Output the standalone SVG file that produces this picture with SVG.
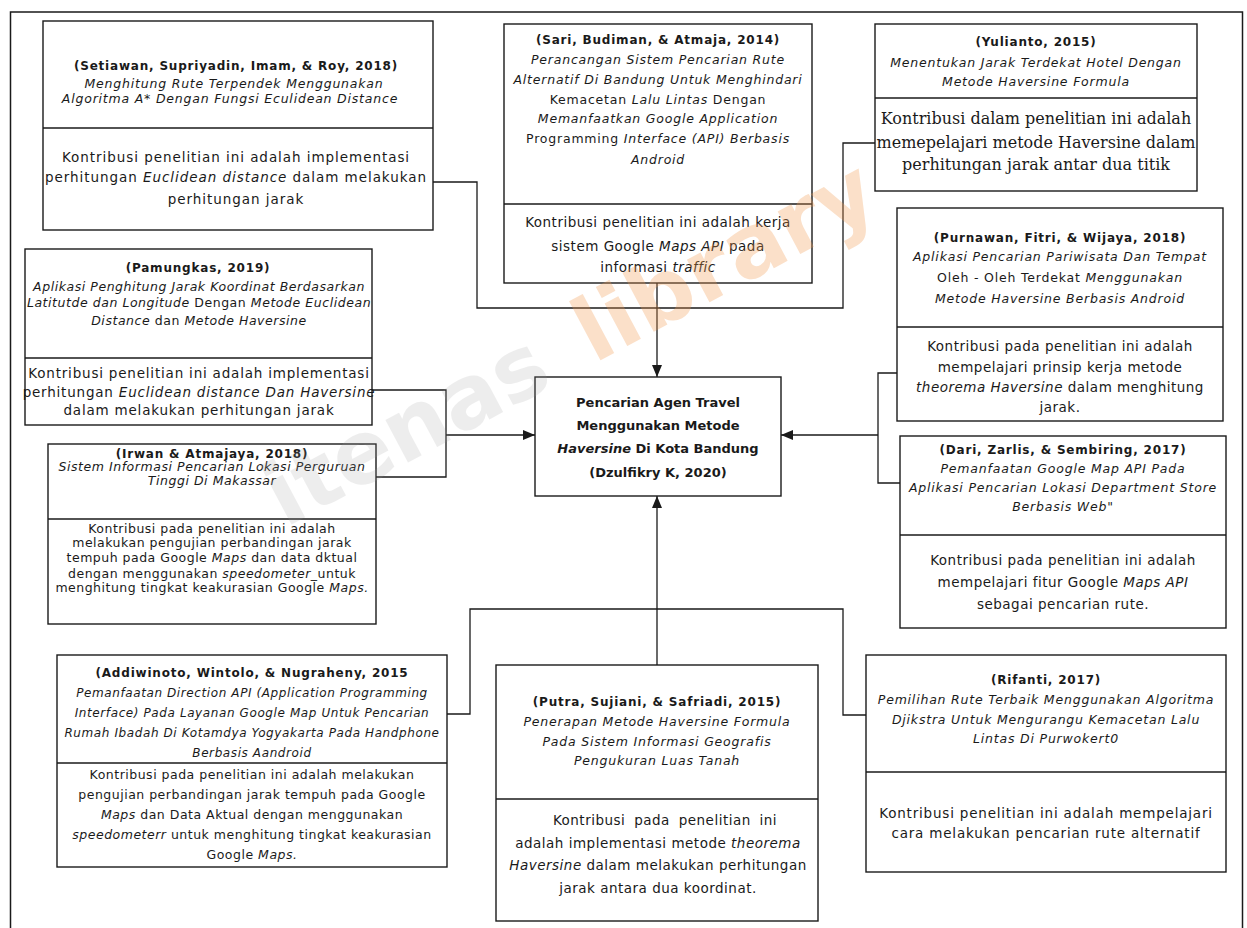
<svg xmlns="http://www.w3.org/2000/svg" width="1247" height="928" viewBox="0 0 1247 928">
<style>
.box{fill:#fff;stroke:#1a1a1a;stroke-width:1.4}
.div{stroke:#1a1a1a;stroke-width:1.4}
.conn{fill:none;stroke:#1a1a1a;stroke-width:1.3}
text{font-family:"DejaVu Sans","Liberation Sans",sans-serif;fill:#1a1a1a;text-anchor:middle}
.t{font-weight:bold;font-size:12px;letter-spacing:.8px}
.i{font-style:italic;font-size:12.5px;letter-spacing:.8px}
.i3{font-style:italic;font-size:12.5px;letter-spacing:.55px}
.i2{font-style:italic;font-size:12px;letter-spacing:.6px}
.b{font-size:13.5px;letter-spacing:.8px}
.bw{font-size:13.5px;letter-spacing:.95px}
.bn{font-size:13.5px;letter-spacing:.5px}
.s{font-size:12.5px;letter-spacing:.5px}
.c{font-weight:bold;font-size:13px}
.sf{font-family:"DejaVu Serif","Liberation Serif",serif;font-size:16px}
.em{font-style:italic}
.up{font-style:normal}
.wm{font-family:"DejaVu Sans",sans-serif;font-weight:bold;font-size:88px;text-anchor:start}
.wg{fill:#9a9a9a;opacity:.17}
.wo{fill:#f39a4e;opacity:.3}
</style>
<defs>
<marker id="arr" markerUnits="userSpaceOnUse" markerWidth="13" markerHeight="11" refX="12" refY="5" orient="auto">
<path d="M0,0 L12,5 L0,10 z" fill="#1a1a1a"/>
</marker>
</defs>
<rect x="0" y="0" width="1247" height="928" fill="#fff"/>
<rect x="10.5" y="12" width="1232" height="930" fill="none" stroke="#1a1a1a" stroke-width="1.5"/>

<g id="connectors">
<path class="conn" d="M433,182 H477 V308 H843 V143 H875"/>
<path class="conn" d="M657,283 V377" marker-end="url(#arr)"/>
<path class="conn" d="M372,390 H446 V477 H376"/>
<path class="conn" d="M446,435 H535" marker-end="url(#arr)"/>
<path class="conn" d="M897,373 H878 V483 H900"/>
<path class="conn" d="M878,435 H781" marker-end="url(#arr)"/>
<path class="conn" d="M447,714 H470 V609 H843 V715 H866"/>
<path class="conn" d="M657,665 V496" marker-end="url(#arr)"/>
</g>

<g id="setiawan">
<rect class="box" x="43" y="21" width="390" height="209"/>
<line class="div" x1="43" y1="128" x2="433" y2="128"/>
<text class="t" x="236" y="70">(Setiawan, Supriyadin, Imam, &amp; Roy, 2018)</text>
<text class="i" x="234" y="88">Menghitung Rute Terpendek Menggunakan</text>
<text class="i" x="230" y="103">Algoritma A* Dengan Fungsi Eculidean Distance</text>
<text class="bw" x="236" y="162">Kontribusi penelitian ini adalah implementasi</text>
<text class="bw" x="236" y="182">perhitungan <tspan class="em">Euclidean distance</tspan> dalam melakukan</text>
<text class="bw" x="236" y="204">perhitungan jarak</text>
</g>

<g id="sari">
<rect class="box" x="504" y="24" width="308" height="259"/>
<line class="div" x1="504" y1="204" x2="812" y2="204"/>
<text class="t" x="658" y="44">(Sari, Budiman, &amp; Atmaja, 2014)</text>
<text class="i" x="658" y="64">Perancangan Sistem Pencarian Rute</text>
<text class="i" x="658" y="84">Alternatif Di Bandung Untuk Menghindari</text>
<text class="i" x="658" y="104"><tspan class="up">Kemacetan</tspan> Lalu Lintas <tspan class="up">Dengan</tspan></text>
<text class="i" x="658" y="123">Memanfaatkan Google Application</text>
<text class="i" x="658" y="143"><tspan class="up">Programming</tspan> Interface (API) Berbasis</text>
<text class="i" x="658" y="164">Android</text>
<text class="bn" x="658" y="227">Kontribusi penelitian ini adalah kerja</text>
<text class="bn" x="658" y="251">sistem Google <tspan class="em">Maps API</tspan> pada</text>
<text class="bn" x="658" y="272">informasi <tspan class="em">traffic</tspan></text>
</g>

<g id="yulianto">
<rect class="box" x="875" y="24" width="322" height="167"/>
<line class="div" x1="875" y1="98" x2="1197" y2="98"/>
<text class="t" x="1036" y="46">(Yulianto, 2015)</text>
<text class="i" x="1036" y="67">Menentukan Jarak Terdekat Hotel Dengan</text>
<text class="i" x="1036" y="86">Metode Haversine Formula</text>
<text class="sf" x="1036" y="124">Kontribusi dalam penelitian ini adalah</text>
<text class="sf" x="1036" y="148">memepelajari metode Haversine dalam</text>
<text class="sf" x="1036" y="170">perhitungan jarak antar dua titik</text>
</g>

<g id="pamungkas">
<rect class="box" x="25" y="249" width="347" height="176"/>
<line class="div" x1="25" y1="358" x2="372" y2="358"/>
<text class="t" x="198" y="272">(Pamungkas, 2019)</text>
<text class="i3" x="199" y="291">Aplikasi Penghitung Jarak Koordinat Berdasarkan</text>
<text class="i3" x="199" y="307">Latitutde dan Longitude <tspan class="up">Dengan</tspan> Metode Euclidean</text>
<text class="i3" x="199" y="325">Distance <tspan class="up">dan</tspan> Metode Haversine</text>
<text class="b" x="199" y="378">Kontribusi penelitian ini adalah implementasi</text>
<text class="b" x="199" y="397">perhitungan <tspan class="em">Euclidean distance Dan Haversine</tspan></text>
<text class="b" x="199" y="415">dalam melakukan perhitungan jarak</text>
</g>

<g id="irwan">
<rect class="box" x="48" y="444" width="328" height="180"/>
<line class="div" x1="48" y1="519" x2="376" y2="519"/>
<text class="t" x="212" y="458">(Irwan &amp; Atmajaya, 2018)</text>
<text class="i3" x="212" y="471">Sistem Informasi Pencarian Lokasi Perguruan</text>
<text class="i3" x="212" y="485">Tinggi Di Makassar</text>
<text class="s" x="212" y="533">Kontribusi pada penelitian ini adalah</text>
<text class="s" x="212" y="547">melakukan pengujian perbandingan jarak</text>
<text class="s" x="212" y="562">tempuh pada Google <tspan class="em">Maps</tspan> dan data dktual</text>
<text class="s" x="212" y="578">dengan menggunakan <tspan class="em">speedometer</tspan>_untuk</text>
<text class="s" x="212" y="592">menghitung tingkat keakurasian Google <tspan class="em">Maps.</tspan></text>
</g>

<g id="center">
<rect class="box" x="535" y="377" width="246" height="119"/>
<text class="c" x="658" y="407">Pencarian Agen Travel</text>
<text class="c" x="658" y="430">Menggunakan Metode</text>
<text class="c" x="658" y="453"><tspan class="em">Haversine</tspan> Di Kota Bandung</text>
<text class="c" x="658" y="477">(Dzulfikry K, 2020)</text>
</g>

<g id="purnawan">
<rect class="box" x="897" y="208" width="326" height="213"/>
<line class="div" x1="897" y1="327" x2="1223" y2="327"/>
<text class="t" x="1060" y="242">(Purnawan, Fitri, &amp; Wijaya, 2018)</text>
<text class="i" x="1060" y="261">Aplikasi Pencarian Pariwisata Dan Tempat</text>
<text class="i" x="1060" y="282"><tspan class="up">Oleh - Oleh Terdekat</tspan> Menggunakan</text>
<text class="i" x="1060" y="303">Metode Haversine Berbasis Android</text>
<text class="bn" x="1060" y="351">Kontribusi pada penelitian ini adalah</text>
<text class="bn" x="1060" y="372">mempelajari prinsip kerja metode</text>
<text class="bn" x="1060" y="392"><tspan class="em">theorema Haversine</tspan> dalam menghitung</text>
<text class="bn" x="1060" y="412">jarak.</text>
</g>

<g id="dari">
<rect class="box" x="900" y="436" width="326" height="192"/>
<line class="div" x1="900" y1="535" x2="1226" y2="535"/>
<text class="t" x="1063" y="454">(Dari, Zarlis, &amp; Sembiring, 2017)</text>
<text class="i" x="1063" y="473">Pemanfaatan Google Map API Pada</text>
<text class="i" x="1063" y="492">Aplikasi Pencarian Lokasi Department Store</text>
<text class="i" x="1063" y="511">Berbasis Web"</text>
<text class="bn" x="1063" y="565">Kontribusi pada penelitian ini adalah</text>
<text class="bn" x="1063" y="587">mempelajari fitur Google <tspan class="em">Maps API</tspan></text>
<text class="bn" x="1063" y="609">sebagai pencarian rute.</text>
</g>

<g id="addiwinoto">
<rect class="box" x="57" y="655" width="390" height="212"/>
<line class="div" x1="57" y1="763" x2="447" y2="763"/>
<text class="t" x="252" y="677">(Addiwinoto, Wintolo, &amp; Nugraheny, 2015</text>
<text class="i2" x="252" y="697">Pemanfaatan Direction API (Application Programming</text>
<text class="i2" x="252" y="717">Interface) Pada Layanan Google Map Untuk Pencarian</text>
<text class="i2" x="252" y="737">Rumah Ibadah Di Kotamdya Yogyakarta Pada Handphone</text>
<text class="i2" x="252" y="757">Berbasis Aandroid</text>
<text class="s" x="252" y="779">Kontribusi pada penelitian ini adalah melakukan</text>
<text class="s" x="252" y="799">pengujian perbandingan jarak tempuh pada Google</text>
<text class="s" x="252" y="819"><tspan class="em">Maps</tspan> dan Data Aktual dengan menggunakan</text>
<text class="s" x="252" y="839"><tspan class="em">speedometerr</tspan> untuk menghitung tingkat keakurasian</text>
<text class="s" x="252" y="859">Google <tspan class="em">Maps.</tspan></text>
</g>

<g id="putra">
<rect class="box" x="496" y="665" width="322" height="256"/>
<line class="div" x1="496" y1="799" x2="818" y2="799"/>
<text class="t" x="657" y="706">(Putra, Sujiani, &amp; Safriadi, 2015)</text>
<text class="i" x="657" y="726">Penerapan Metode Haversine Formula</text>
<text class="i" x="657" y="746">Pada Sistem Informasi Geografis</text>
<text class="i" x="657" y="765">Pengukuran Luas Tanah</text>
<text class="bn" x="665" y="825" word-spacing="4">Kontribusi pada penelitian ini</text>
<text class="bn" x="658" y="848">adalah implementasi metode <tspan class="em">theorema</tspan></text>
<text class="bn" x="658" y="870"><tspan class="em">Haversine</tspan> dalam melakukan perhitungan</text>
<text class="bn" x="658" y="893">jarak antara dua koordinat.</text>
</g>

<g id="rifanti">
<rect class="box" x="866" y="655" width="360" height="217"/>
<line class="div" x1="866" y1="772" x2="1226" y2="772"/>
<text class="t" x="1046" y="684">(Rifanti, 2017)</text>
<text class="i" x="1046" y="704">Pemilihan Rute Terbaik Menggunakan Algoritma</text>
<text class="i" x="1046" y="724">Djikstra Untuk Mengurangu Kemacetan Lalu</text>
<text class="i" x="1046" y="743">Lintas Di Purwokert0</text>
<text class="b" x="1046" y="818">Kontribusi penelitian ini adalah mempelajari</text>
<text class="b" x="1046" y="838">cara melakukan pencarian rute alternatif</text>
</g>

<g id="watermark" transform="translate(285,528) rotate(-28)">
<text class="wm wg" x="0" y="0">itenas</text>
<text class="wm wo" x="350" y="0">library</text>
</g>
</svg>
